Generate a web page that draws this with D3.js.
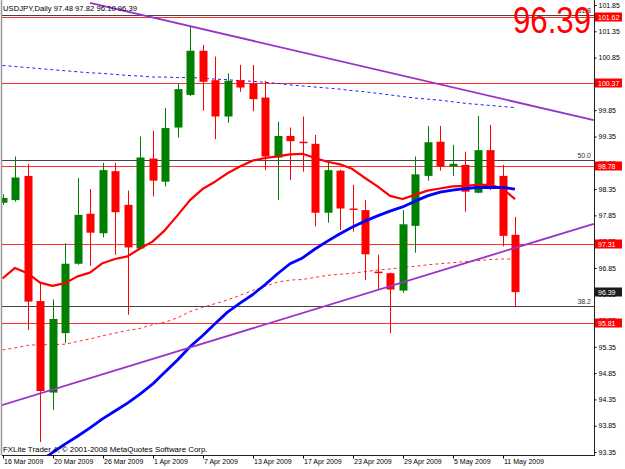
<!DOCTYPE html>
<html>
<head>
<meta charset="utf-8">
<script src="https://cdn.jsdelivr.net/npm/d3@7"></script>
<style>
  body { margin: 0; background: #fff; }
  svg { display: block; font-family: "Liberation Sans", Arial, sans-serif; }
  .tick text { font-size: 7px; fill: #000; }
</style>
</head>
<body>
<svg width="625" height="469"></svg>
<script>
// daily USDJPY bars, 16 Mar - 12 May 2009
var opens  = [98.09, 98.14, 98.60, 96.22, 94.48, 95.61, 96.93, 97.88, 97.51, 98.69, 98.05, 97.22, 98.93, 98.49,
              99.52, 100.14, 100.98, 100.42, 99.73, 100.42, 100.36, 100.09, 98.95, 99.36, 99.25, 99.21, 97.90, 98.70,
              97.98, 97.95, 96.78, 96.75, 96.42, 97.65, 98.60, 99.25, 98.78, 98.81, 98.28, 99.09, 98.60, 97.48];
var highs  = [98.25, 98.97, 98.83, 96.56, 96.25, 97.32, 98.56, 98.35, 98.85, 98.85, 98.32, 99.35, 99.46, 99.89,
              100.36, 101.44, 101.09, 100.87, 100.55, 100.71, 100.71, 100.41, 99.63, 99.52, 99.73, 99.38, 98.87, 98.72,
              98.43, 98.14, 97.10, 96.76, 97.95, 98.97, 99.55, 99.55, 99.19, 99.06, 99.74, 99.57, 98.81, 97.82];
var lows   = [98.05, 98.11, 95.67, 93.54, 94.15, 95.42, 96.91, 96.89, 97.43, 97.10, 95.96, 97.20, 98.21, 98.40,
              99.33, 100.12, 99.84, 99.30, 99.61, 100.20, 99.83, 98.71, 98.14, 98.52, 98.68, 97.64, 97.71, 97.57,
              97.54, 96.62, 96.43, 95.61, 96.38, 97.14, 98.51, 98.70, 98.60, 97.92, 98.27, 98.33, 97.26, 96.10];
var closes = [98.18, 98.57, 96.21, 94.51, 95.88, 96.93, 97.86, 97.52, 98.71, 97.91, 97.24, 98.95, 98.51, 99.51,
              100.25, 100.98, 100.39, 99.73, 100.41, 100.28, 100.06, 98.97, 99.36, 99.26, 99.23, 97.90, 98.71, 97.98,
              97.96, 97.11, 96.75, 96.44, 97.68, 98.63, 99.24, 98.78, 98.83, 98.30, 99.09, 98.43, 97.46, 96.39];

// moving averages
var maFast = [96.65, 96.85, 96.75, 96.57, 96.51, 96.56, 96.69, 96.76, 96.94, 97.02, 97.07, 97.22, 97.35, 97.57,
              97.85, 98.14, 98.35, 98.49, 98.65, 98.78, 98.89, 98.94, 98.97, 99.01, 99.02, 98.94, 98.87, 98.82,
              98.73, 98.56, 98.40, 98.22, 98.16, 98.24, 98.32, 98.36, 98.40, 98.41, 98.43, 98.43, 98.36, 98.16];
var maMid  = [null, null, null, 93.17, 93.34, 93.50, 93.65, 93.81, 93.98, 94.13, 94.28, 94.45, 94.64, 94.87,
              95.10, 95.35, 95.56, 95.79, 96.01, 96.18, 96.34, 96.53, 96.74, 96.93, 97.04, 97.21, 97.36, 97.50,
              97.63, 97.74, 97.84, 97.93, 98.01, 98.12, 98.22, 98.29, 98.33, 98.36, 98.38, 98.38, 98.38, 98.35];
var maSlowRed = [95.29, 95.33, 95.38, 95.39, 95.39, 95.40, 95.45, 95.50, 95.56, 95.61, 95.66, 95.70, 95.77, 95.82,
              95.90, 96.02, 96.10, 96.17, 96.24, 96.33, 96.42, 96.50, 96.58, 96.62, 96.63, 96.67, 96.71, 96.73,
              96.75, 96.78, 96.81, 96.83, 96.86, 96.88, 96.91, 96.93, 96.95, 96.97, 96.99, 97.01, 97.02, 97.02];
var maSlowBlue = [100.70, 100.68, 100.66, 100.64, 100.62, 100.60, 100.58, 100.56, 100.55, 100.53, 100.51, 100.50, 100.48, 100.48,
              100.47, 100.47, 100.46, 100.44, 100.43, 100.41, 100.40, 100.38, 100.36, 100.33, 100.31, 100.29, 100.27, 100.25,
              100.22, 100.20, 100.17, 100.14, 100.11, 100.08, 100.06, 100.04, 100.01, 99.98, 99.96, 99.94, 99.92, 99.90];

var dateTickIdx = [0, 4, 8, 12, 16, 20, 24, 28, 32, 36, 40];
var dateLabels = ["16 Mar 2009", "20 Mar 2009", "26 Mar 2009", "1 Apr 2009", "7 Apr 2009", "13 Apr 2009",
                  "17 Apr 2009", "23 Apr 2009", "29 Apr 2009", "5 May 2009", "11 May 2009"];
var priceTicks = [101.85, 101.35, 100.85, 100.35, 99.85, 99.35, 98.85, 98.35, 97.85, 97.35,
                  96.85, 96.35, 95.85, 95.35, 94.85, 94.35, 93.85, 93.35];

var levelPrices = [101.62, 100.37, 98.78, 97.31, 95.81];
var fibPrices = [101.66, 98.90, 96.13];
var fibLabels = ["61.8", "50.0", "38.2"];
var trendUpper = [[7, 101.89], [47.3, 99.66]];
var trendLower = [[-0.2, 94.23], [47.3, 97.69]];
var bid = 96.39;

var plotLeft = 2, plotRight = 594, plotTop = 0, plotBottom = 455;

var svg = d3.select("svg");
var x = d3.scaleLinear().domain([0, 41]).range([2.5, 515]);
var y = d3.scaleLinear().domain([93.35, 101.85]).range([452, 5]);

svg.append("defs").append("clipPath").attr("id", "plot")
  .append("rect").attr("x", plotLeft).attr("y", plotTop)
  .attr("width", plotRight - plotLeft).attr("height", plotBottom - plotTop);

var plot = svg.append("g").attr("clip-path", "url(#plot)");

// horizontal levels
plot.selectAll(".lvl").data(levelPrices).enter().append("line")
  .attr("class", "lvl")
  .attr("x1", plotLeft).attr("x2", plotRight)
  .attr("y1", function(d) { return Math.round(y(d)) + 0.5; })
  .attr("y2", function(d) { return Math.round(y(d)) + 0.5; })
  .attr("stroke", "#ff3030").attr("stroke-width", 1);

plot.selectAll(".fib").data(fibPrices).enter().append("line")
  .attr("class", "fib")
  .attr("x1", plotLeft).attr("x2", plotRight)
  .attr("y1", function(d) { return Math.round(y(d)) + 0.5; })
  .attr("y2", function(d) { return Math.round(y(d)) + 0.5; })
  .attr("stroke", "#444").attr("stroke-width", 1);

plot.selectAll(".fibtxt").data(fibPrices).enter().append("text")
  .attr("x", plotRight - 3).attr("y", function(d) { return Math.round(y(d)) - 2; })
  .attr("text-anchor", "end").attr("font-size", 7).attr("fill", "#333")
  .text(function(d, k) { return fibLabels[k]; });

function maLine(vals) {
  return d3.line()
    .defined(function(d) { return d != null; })
    .x(function(d, i) { return x(i); })
    .y(function(d) { return y(d); })(vals);
}

plot.append("path").attr("d", maLine(maSlowBlue)).attr("fill", "none")
  .attr("stroke", "#2020ff").attr("stroke-width", 1).attr("stroke-dasharray", "3,3");
plot.append("path").attr("d", maLine(maSlowRed)).attr("fill", "none")
  .attr("stroke", "#ff3030").attr("stroke-width", 1).attr("stroke-dasharray", "3,3");

// candles
var bars = d3.range(opens.length);
plot.selectAll(".wick").data(bars).enter().append("line")
  .attr("x1", function(i) { return Math.round(x(i)) + 0.5; })
  .attr("x2", function(i) { return Math.round(x(i)) + 0.5; })
  .attr("y1", function(i) { return y(highs[i]); })
  .attr("y2", function(i) { return y(lows[i]); })
  .attr("stroke", function(i) { return closes[i] >= opens[i] ? "#008000" : "#ff0000"; });

plot.selectAll(".body").data(bars).enter().append("rect")
  .attr("x", function(i) { return Math.round(x(i)) - 3.5; })
  .attr("width", 8)
  .attr("y", function(i) { return y(Math.max(opens[i], closes[i])); })
  .attr("height", function(i) { return Math.max(1.5, Math.abs(y(opens[i]) - y(closes[i]))); })
  .attr("fill", function(i) { return closes[i] >= opens[i] ? "#008000" : "#ff0000"; });

plot.append("path").attr("d", maLine(maFast)).attr("fill", "none")
  .attr("stroke", "#ff0000").attr("stroke-width", 2.2).attr("stroke-linejoin", "round");
plot.append("path").attr("d", maLine(maMid)).attr("fill", "none")
  .attr("stroke", "#0000ff").attr("stroke-width", 2.8).attr("stroke-linejoin", "round");

// trendlines
[trendUpper, trendLower].forEach(function(t) {
  plot.append("line")
    .attr("x1", x(t[0][0])).attr("y1", y(t[0][1]))
    .attr("x2", x(t[1][0])).attr("y2", y(t[1][1]))
    .attr("stroke", "#9932cc").attr("stroke-width", 1.8);
});

// frame
svg.append("line").attr("x1", plotLeft - 0.5).attr("x2", plotLeft - 0.5).attr("y1", 0).attr("y2", plotBottom)
  .attr("stroke", "#999").attr("stroke-width", 1.5);
svg.append("line").attr("x1", plotLeft).attr("x2", plotRight).attr("y1", plotBottom + 0.5).attr("y2", plotBottom + 0.5)
  .attr("stroke", "#222");
svg.append("line").attr("x1", plotRight + 0.5).attr("x2", plotRight + 0.5).attr("y1", 0).attr("y2", plotBottom + 1)
  .attr("stroke", "#222");

// axes
var yAxis = svg.append("g").attr("transform", "translate(" + (plotRight + 0.5) + ",0)")
  .call(d3.axisRight(y).tickValues(priceTicks).tickSize(2).tickSizeOuter(0).tickPadding(2).tickFormat(d3.format(".2f")));
yAxis.select(".domain").remove();

var xAxis = svg.append("g").attr("transform", "translate(0," + (plotBottom + 0.5) + ")")
  .call(d3.axisBottom(x).tickValues(dateTickIdx).tickSize(3).tickSizeOuter(0)
    .tickFormat(function(d, k) { return dateLabels[k]; }));
xAxis.select(".domain").remove();
xAxis.selectAll(".tick line").attr("transform", "translate(0.5,0)");
xAxis.selectAll(".tick text").attr("text-anchor", "start").attr("x", 1).attr("y", 4);

// price labels on the axis
var tags = levelPrices.map(function(p) { return { p: p, bg: "#ff0000" }; });
tags.push({ p: bid, bg: "#1a1a1a" });
var tag = svg.selectAll(".tag").data(tags).enter().append("g")
  .attr("transform", function(d) { return "translate(" + (plotRight + 1) + "," + Math.round(y(d.p)) + ")"; });
tag.append("rect").attr("x", 0).attr("y", -4.5).attr("width", 27).attr("height", 9)
  .attr("fill", function(d) { return d.bg; });
tag.append("text").attr("x", 3).attr("y", 2.5).attr("font-size", 7).attr("fill", "#fff")
  .text(function(d) { return d.p.toFixed(2); });

// texts
svg.append("text").attr("x", 3).attr("y", 11).attr("font-size", 7.7)
  .text("USDJPY,Daily  " + [opens[41], highs[41], lows[41], closes[41]].map(function(v) { return v.toFixed(2); }).join(" "));
svg.append("text").attr("x", 3).attr("y", 452).attr("font-size", 7.9)
  .text("FXLite Trader 4, \u00a9 2001-2008 MetaQuotes Software Corp.");
svg.append("text").attr("x", 513).attr("y", 33).attr("font-size", 36).attr("fill", "#ff0000")
  .attr("textLength", 78).attr("lengthAdjust", "spacingAndGlyphs")
  .text(bid.toFixed(2));
</script>
</body>
</html>
